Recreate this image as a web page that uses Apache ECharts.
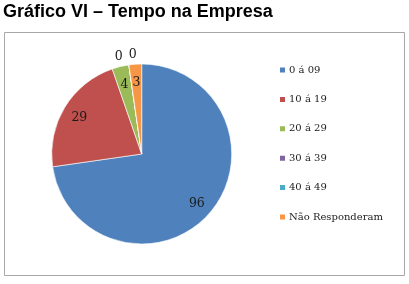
<!DOCTYPE html>
<html>
<head>
<meta charset="utf-8">
<script src="https://cdn.jsdelivr.net/npm/echarts@6/dist/echarts.min.js"></script>
<style>
  html, body { margin: 0; padding: 0; background: #fff; }
  #chart { width: 409px; height: 284px; }
</style>
</head>
<body>
<div id="chart"></div>
<script>
// dados do gráfico
var categorias = ["0 á 09", "10 á 19", "20 á 29", "30 á 39", "40 á 49", "Não Responderam"];
var valores = [96, 29, 4, 0, 0, 3];
var cores = ["#4F81BD", "#C0504D", "#9BBB59", "#8064A2", "#4BACC6", "#F79646"];

var chart = echarts.init(document.getElementById("chart"));

var fatias = categorias.map(function (nome, i) {
  return { name: nome, value: valores[i], itemStyle: { color: cores[i] } };
});

// rótulos: dentro da fatia, zeros por fora sem linha
var zeroOffsets = [[-1, -6], [13, -8]];
var zi = 0;
var rotulos = categorias.map(function (nome, i) {
  var item = { name: nome, value: valores[i] };
  if (valores[i] === 0) {
    item.label = { position: "outside", offset: zeroOffsets[zi++] };
  }
  return item;
});

chart.setOption({
  backgroundColor: "#fff",
  animation: false,
  title: {
    text: "Gráfico VI – Tempo na Empresa",
    left: 3,
    top: 3,
    padding: 0,
    textStyle: {
      fontFamily: "Liberation Sans",
      fontWeight: "bold",
      fontSize: 18,
      color: "#000"
    }
  },
  graphic: [
    {
      type: "rect",
      shape: { x: 4.5, y: 32.5, width: 400, height: 243 },
      style: { fill: "none", stroke: "#a8a8a8", lineWidth: 1 },
      z: -1
    }
  ],
  legend: {
    orient: "vertical",
    left: 278,
    top: 63,
    padding: 0,
    itemWidth: 7,
    itemHeight: 7,
    itemGap: 15.4,
    icon: "rect",
    data: categorias,
    textStyle: {
      fontFamily: "DejaVu Serif",
      fontSize: 10,
      lineHeight: 14,
      color: "#222",
      padding: [0, 0, 0, -2]
    }
  },
  series: [
    {
      name: "Tempo na Empresa",
      type: "pie",
      center: [141.7, 154],
      radius: [0, 90],
      startAngle: 90,
      clockwise: true,
      silent: true,
      label: { show: false },
      labelLine: { show: false },
      itemStyle: { borderColor: "#fff", borderWidth: 0.6 },
      data: fatias
    },
    {
      name: "rotulos",
      type: "pie",
      center: [141.7, 154],
      radius: [50, 90],
      startAngle: 90,
      clockwise: true,
      silent: true,
      avoidLabelOverlap: false,
      minShowLabelAngle: -1,
      itemStyle: { color: "rgba(0,0,0,0)" },
      label: {
        show: true,
        position: "inside",
        formatter: "{c}",
        offset: [0, 2],
        fontFamily: "DejaVu Serif",
        fontSize: 12.5,
        color: "#1a1a1a"
      },
      labelLine: { show: false, length: 2, length2: 0 },
      data: rotulos
    }
  ]
});
</script>
</body>
</html>
